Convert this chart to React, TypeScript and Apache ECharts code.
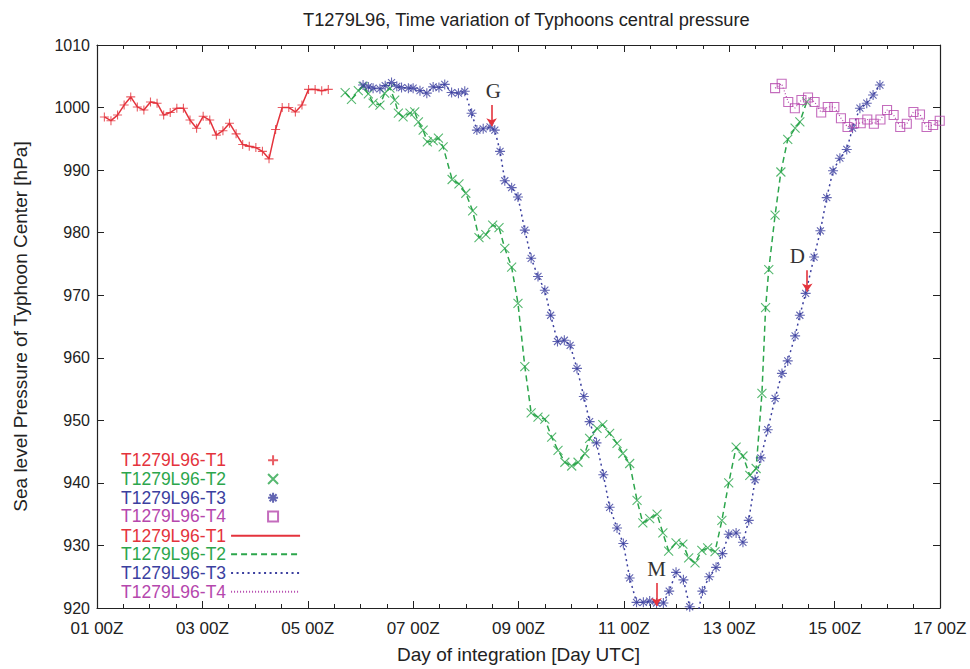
import React, { useEffect, useRef } from 'react';
import * as echarts from 'echarts';

// ---------------- data ----------------
const SERIES_NAMES = ['T1279L96-T1', 'T1279L96-T2', 'T1279L96-T3', 'T1279L96-T4'];
const COLORS = ['#e4333c', '#2ca64c', '#3b3f9f', '#b547ad'];

const STEP_DAY = 0.125; // 3-hourly output

const T1_START_DAY = 1.14;
const T1_HPA = [
  998.5, 997.9, 998.8, 1000.4, 1001.7, 1000.1, 999.6, 1000.9, 1000.7, 998.8,
  999.2, 999.9, 999.9, 998.0, 996.7, 998.6, 998.0, 995.6, 996.3, 997.5,
  995.8, 994.1, 993.8, 993.6, 993.0, 991.8, 996.5, 1000.0, 1000.0, 999.3,
  1000.4, 1002.9, 1002.9, 1002.7, 1002.9,
];

const T2_DAY = [
  5.71, 5.83, 5.96, 6.05, 6.15, 6.24, 6.37, 6.46, 6.56, 6.65,
  6.72, 6.81, 6.94, 7.03, 7.10, 7.19, 7.27, 7.38, 7.48, 7.57,
  7.74, 7.87, 8.00, 8.13, 8.25, 8.38, 8.51, 8.63, 8.74, 8.87,
  8.99, 9.12, 9.24, 9.37, 9.50, 9.63, 9.75, 9.88, 10.01, 10.13,
  10.26, 10.35, 10.49, 10.60, 10.73, 10.87, 10.98, 11.11, 11.25, 11.36,
  11.49, 11.63, 11.74, 11.85, 11.99, 12.12, 12.23, 12.35, 12.48, 12.59,
  12.73, 12.86, 12.99, 13.13, 13.26, 13.39, 13.51, 13.62, 13.69, 13.75,
  13.87, 13.98, 14.11, 14.25, 14.34, 14.47,
];
const T2_HPA = [
  1002.4, 1001.3, 1002.7, 1003.4, 1002.2, 1000.7, 1000.4, 1002.3, 1003.1, 1001.2,
  999.1, 998.5, 999.1, 999.3, 997.7, 996.4, 994.5, 994.7, 995.1, 993.7,
  988.5, 987.8, 986.3, 983.5, 979.2, 979.7, 981.2, 980.8, 977.5, 974.5,
  968.7, 958.6, 951.2, 950.5, 950.2, 947.3, 945.2, 943.3, 942.7, 943.3,
  944.7, 947.1, 948.7, 949.3, 947.9, 946.3, 944.7, 943.1, 937.2, 933.6,
  934.3, 935.0, 932.0, 929.1, 930.4, 930.2, 928.0, 927.2, 929.2, 929.6,
  929.0, 934.0, 940.0, 945.7, 944.3, 941.2, 942.3, 954.3, 968.0, 974.1,
  982.8, 989.7, 994.9, 996.7, 997.7, 1000.9,
];

const T3_DAY = [
  6.05, 6.15, 6.24, 6.37, 6.47, 6.59, 6.69, 6.78, 6.91, 7.00,
  7.13, 7.26, 7.38, 7.49, 7.60, 7.73, 7.86, 7.98, 8.11, 8.21,
  8.33, 8.46, 8.55, 8.65, 8.74, 8.87, 8.99, 9.12, 9.24, 9.37,
  9.50, 9.61, 9.74, 9.87, 9.98, 10.11, 10.24, 10.35, 10.48, 10.61,
  10.73, 10.87, 10.99, 11.11, 11.24, 11.37, 11.49, 11.62, 11.75, 11.86,
  11.99, 12.13, 12.25, 12.37, 12.49, 12.62, 12.75, 12.87, 12.99, 13.13,
  13.26, 13.37, 13.49, 13.60, 13.73, 13.87, 14.00, 14.11, 14.25, 14.34,
  14.45, 14.61, 14.73, 14.85, 14.97, 15.10, 15.23, 15.34, 15.48, 15.61,
  15.73, 15.86,
];
const T3_HPA = [
  1003.6, 1003.3, 1003.1, 1003.0, 1003.5, 1004.0, 1003.4, 1003.2, 1003.1, 1003.1,
  1002.7, 1002.3, 1003.3, 1003.2, 1003.7, 1002.4, 1002.3, 1002.6, 999.1, 996.4,
  996.6, 996.9, 996.4, 993.0, 988.3, 987.2, 985.7, 980.4, 975.9, 973.0,
  970.8, 966.8, 962.6, 962.8, 962.0, 958.3, 953.8, 949.8, 946.4, 941.3,
  936.1, 932.8, 930.3, 924.8, 920.9, 920.9, 921.1, 920.8, 920.8, 922.7,
  925.7, 924.5, 920.2, 917.5, 922.7, 925.0, 926.5, 928.7, 931.8, 932.0,
  930.5, 934.0, 940.5, 944.0, 948.5, 953.5, 957.5, 959.5, 963.5, 966.8,
  970.3, 976.1, 980.3, 985.6, 989.9, 991.9, 993.3, 996.7, 999.9, 1000.7,
  1002.0, 1003.6,
];

const T4_START_DAY = 13.87;
const T4_HPA = [
  1003.1, 1003.8, 1000.9, 999.9, 1001.2, 1001.6, 1000.9, 999.2, 1000.1, 1000.1,
  998.3, 996.9, 997.5, 997.5, 998.1, 997.4, 998.1, 999.6, 998.8, 996.9,
  997.4, 999.3, 998.9, 996.9, 997.2, 997.9,
];

const X_MIN_DAY = 1;
const X_MAX_DAY = 17;
const X_STEP_DAY = 2;
const Y_MIN = 920;
const Y_MAX = 1010;
const Y_STEP = 10;

const ANNOTATIONS = [
  { label: 'G', labelDay: 8.52, labelHpa: 1002.6, arrowDay: 8.49, fromHpa: 1000.4, toHpa: 997.0 },
  { label: 'M', labelDay: 11.62, labelHpa: 926.3, arrowDay: 11.62, fromHpa: 924.0, toHpa: 920.3 },
  { label: 'D', labelDay: 14.29, labelHpa: 976.2, arrowDay: 14.48, fromHpa: 974.0, toHpa: 970.6 },
];

// ---------------- styling ----------------
const FONT = '"Liberation Sans", Arial, sans-serif';
const INK = '#222';
const SYMBOLS = [
  'path://M0,5L10,5M5,0L5,10',
  'path://M0,0L10,10M10,0L0,10',
  'path://M0,5L10,5M5,0L5,10M1.5,1.5L8.5,8.5M8.5,1.5L1.5,8.5',
  'path://M0,0L10,0L10,10L0,10Z',
];
const SYMBOL_SIZES = [9, 9, 10, 9];
const DASHES: any[] = ['solid', [6, 4], [2, 3.5], [1, 2]];

function buildPoints(days: number[], hpa: number[]) {
  return hpa.map((p, i) => [days[i] - X_MIN_DAY, p]);
}
function buildRegular(start: number, hpa: number[]) {
  return hpa.map((p, i) => [start + i * STEP_DAY - X_MIN_DAY, p]);
}

const pad2 = (n: number) => (n < 10 ? '0' + n : '' + n);

export default function App() {
  const ref = useRef<HTMLDivElement>(null);

  useEffect(() => {
    if (!ref.current) return;
    const chart = echarts.init(ref.current, undefined, { renderer: 'svg' });

    const allData = [
      buildRegular(T1_START_DAY, T1_HPA),
      buildPoints(T2_DAY, T2_HPA),
      buildPoints(T3_DAY, T3_HPA),
      buildRegular(T4_START_DAY, T4_HPA),
    ];

    const markerSeries = SERIES_NAMES.map((name, i) => ({
      name,
      type: 'scatter',
      data: allData[i],
      symbol: SYMBOLS[i],
      symbolSize: SYMBOL_SIZES[i],
      itemStyle: {
        color: i === 3 ? 'rgba(0,0,0,0)' : COLORS[i],
        borderColor: COLORS[i],
        borderWidth: 1.1,
      },
      z: 3,
      silent: true,
    }));

    const lineSeries = SERIES_NAMES.map((name, i) => ({
      name: name + ' ',
      type: 'line',
      data: allData[i],
      symbol: 'none',
      showSymbol: false,
      itemStyle: { color: COLORS[i] },
      lineStyle: { color: COLORS[i], width: i === 3 ? 1.2 : 1.5, type: DASHES[i] },
      z: 2,
      silent: true,
    }));

    const xAxisBase = {
      type: 'value',
      min: X_MIN_DAY - X_MIN_DAY,
      max: X_MAX_DAY - X_MIN_DAY,
      interval: X_STEP_DAY,
      axisLine: { show: true, onZero: false, lineStyle: { color: INK, width: 1.2 } },
      axisTick: { show: true, inside: true, length: 7, lineStyle: { color: INK, width: 1 } },
      minorTick: { show: true, splitNumber: 4, length: 4, lineStyle: { color: INK, width: 1 } },
      splitLine: { show: false },
      minorSplitLine: { show: false },
    };
    const yAxisBase = {
      type: 'value',
      min: Y_MIN,
      max: Y_MAX,
      interval: Y_STEP,
      axisLine: { show: true, onZero: false, lineStyle: { color: INK, width: 1.2 } },
      axisTick: { show: true, inside: true, length: 7, lineStyle: { color: INK, width: 1 } },
      splitLine: { show: false },
    };

    const ROW = 18.7;
    const legendCommon = {
      orient: 'vertical',
      left: 121,
      align: 'right',
      itemGap: 0,
      padding: 0,
      selectedMode: false,
      textStyle: { fontSize: 17.5, fontFamily: FONT, lineHeight: ROW },
    };

    chart.setOption({
      animation: false,
      backgroundColor: '#ffffff',
      textStyle: { fontFamily: FONT },
      title: {
        text: 'T1279L96, Time variation of Typhoons central pressure',
        left: 298,
        top: 5,
        textStyle: { fontSize: 18.3, fontWeight: 'normal', color: INK, fontFamily: FONT },
      },
      grid: { left: 97, right: 30, top: 45, bottom: 60, containLabel: false },
      legend: [
        {
          ...legendCommon,
          top: 451,
          itemWidth: 84,
          itemHeight: 10,
          data: SERIES_NAMES.map((n, i) => ({ name: n, textStyle: { color: COLORS[i] } })),
        },
        {
          ...legendCommon,
          top: 451 + 4 * ROW + 0.5,
          itemWidth: 69,
          itemHeight: 10,
          itemStyle: { opacity: 0 },
          formatter: (n: string) => n.trim(),
          data: SERIES_NAMES.map((n, i) => ({ name: n + ' ', textStyle: { color: COLORS[i] } })),
        },
      ],
      xAxis: [
        {
          ...xAxisBase,
          position: 'bottom',
          name: 'Day of integration [Day UTC]',
          nameLocation: 'middle',
          nameGap: 37,
          nameTextStyle: { fontSize: 19, color: INK, fontFamily: FONT },
          axisLabel: {
            show: true,
            fontSize: 17,
            color: INK,
            margin: 12,
            formatter: (v: number) => pad2(Math.round(v + X_MIN_DAY)) + ' 00Z',
          },
        },
        { ...xAxisBase, position: 'top', axisLabel: { show: false } },
      ],
      yAxis: [
        {
          ...yAxisBase,
          position: 'left',
          name: 'Sea level Pressure of Typhoon Center [hPa]',
          nameLocation: 'middle',
          nameGap: 67,
          nameRotate: 90,
          nameTextStyle: { fontSize: 19, color: INK, fontFamily: FONT },
          axisLabel: {
            show: true,
            fontSize: 16,
            color: INK,
            margin: 7,
            formatter: (v: number) => String(Math.round(v)),
          },
        },
        { ...yAxisBase, position: 'right', axisLabel: { show: false } },
      ],
      series: [
        ...lineSeries,
        ...markerSeries,
        {
          name: 'annotations',
          type: 'line',
          data: [],
          silent: true,
          markLine: {
            silent: true,
            symbol: ['none', 'arrow'],
            symbolSize: 8,
            lineStyle: { color: COLORS[0], width: 1.6, type: 'solid' },
            label: { show: false },
            data: ANNOTATIONS.map((a) => [
              { coord: [a.arrowDay - X_MIN_DAY, a.fromHpa] },
              { coord: [a.arrowDay - X_MIN_DAY, a.toHpa] },
            ]),
          },
          markPoint: {
            silent: true,
            symbol: 'rect',
            symbolSize: 1,
            itemStyle: { color: 'rgba(0,0,0,0)' },
            label: {
              show: true,
              position: 'inside',
              formatter: '{b}',
              fontSize: 21,
              fontFamily: '"Liberation Serif", serif',
              color: '#333',
            },
            data: ANNOTATIONS.map((a) => ({
              name: a.label,
              coord: [a.labelDay - X_MIN_DAY, a.labelHpa],
            })),
          },
        },
      ],
    });

    return () => chart.dispose();
  }, []);

  return (
    <div
      ref={ref}
      style={{ position: 'absolute', left: 0, top: 0, width: 970, height: 669, background: '#fff' }}
    />
  );
}
